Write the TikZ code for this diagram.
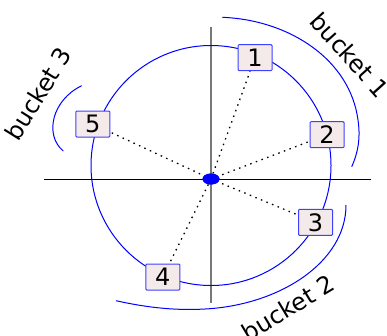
\documentclass[tikz,border=0pt]{standalone}
\usepackage{fontspec}
\setmainfont{DejaVu Sans}
\usetikzlibrary{shapes.geometric}
\definecolor{boxfill}{RGB}{244,234,234}
\definecolor{boxline}{RGB}{64,64,255}
\definecolor{axisgray}{RGB}{120,120,120}
\tikzset{
  bucketbox/.style={draw=boxline, fill=boxfill, line width=1pt, rounded corners=1pt,
    minimum width=34pt, minimum height=26pt, inner sep=0pt, font=\fontsize{24}{24}\selectfont},
  ring/.style={draw=blue, line width=1pt},
  spoke/.style={line width=1.3pt, dash pattern=on 1.5pt off 4.5pt},
  hub/.style={ellipse, fill=blue, minimum width=17pt, minimum height=11pt, inner sep=0pt},
  blabel/.style={font=\fontsize{24}{24}\selectfont, inner sep=0pt}
}
\begin{document}
\begin{tikzpicture}[x=1pt,y=-1pt]
\useasboundingbox (0,0) rectangle (387,335);
% axes
\coordinate (hl) at (44,179);
\coordinate (hr) at (371,179);
\coordinate (vt) at (211,27);
\coordinate (vb) at (211,303);
\draw[line width=1pt, black] (hl) -- (hr);
\draw[line width=1.2pt, axisgray] (vt) -- (vb);
% ring
\coordinate (rc) at (211,165.5);
\draw[ring] (rc) circle[radius=120];
% bucket arcs
\draw[ring] (222.3,17.3) .. controls (290,20) and (350,60) .. (358,120)
                         .. controls (361,140) and (357,155) .. (351.7,166.7);
\draw[ring] (346,205) .. controls (346,262) and (280,305) .. (205,309)
                      .. controls (170,311) and (140,306) .. (116,300.7);
\draw[ring] (81.7,85.7) .. controls (52,100) and (44,135) .. (63.3,151);
% center
\node[hub] (c) at (211,179) {};
% nodes
\node[bucketbox] (n1) at (255,57.7) {1};
\node[bucketbox] (n2) at (327,134.7) {2};
\node[bucketbox] (n3) at (315.5,222.3) {3};
\node[bucketbox] (n4) at (162.8,277) {4};
\node[bucketbox] (n5) at (92.8,124) {5};
% spokes
\foreach \n in {n1,n2,n3,n4,n5} \draw[spoke] (c.center) -- (\n);
\node[hub] at (c) {};
% labels
\node[blabel, rotate=-48] (b1) at (350,55) {bucket 1};
\node[blabel, rotate=31] (b2) at (288,308) {bucket 2};
\node[blabel, rotate=58] (b3) at (38,94) {bucket 3};
\end{tikzpicture}
\end{document}
